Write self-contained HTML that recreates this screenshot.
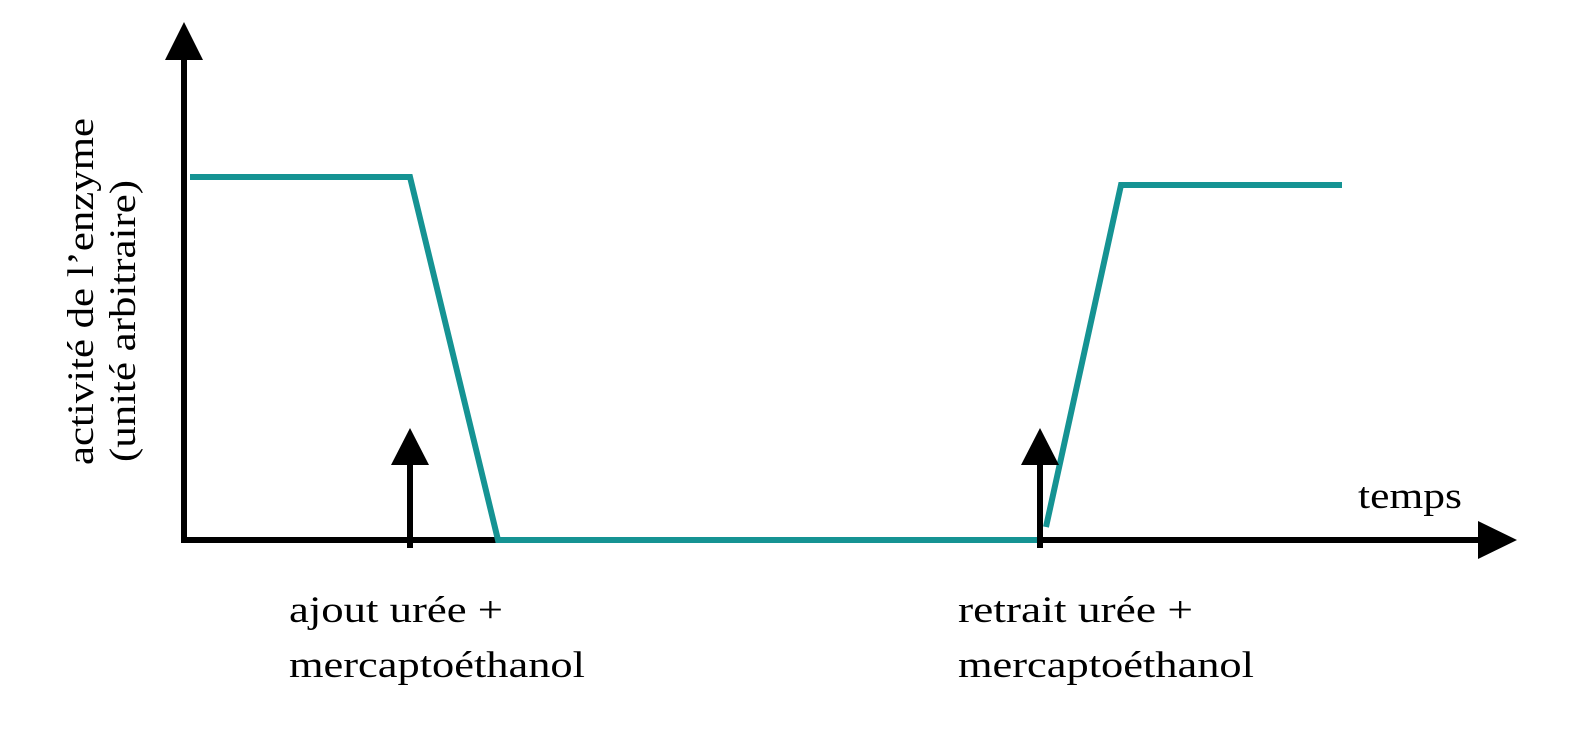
<!DOCTYPE html>
<html><head><meta charset="utf-8"><style>
html,body{margin:0;padding:0;background:#fff;}
svg{display:block;}
text{font-family:"Liberation Serif",serif;font-size:37px;fill:#000;}
</style></head><body>
<svg width="1580" height="730" viewBox="0 0 1580 730" xmlns="http://www.w3.org/2000/svg">
<line x1="184" y1="543" x2="184" y2="55" stroke="#000" stroke-width="6"/>
<polygon points="184,22 165,60 203,60" fill="#000"/>
<line x1="181" y1="540" x2="1482" y2="540" stroke="#000" stroke-width="6"/>
<polygon points="1517,540 1478,521 1478,559" fill="#000"/>
<polyline points="190,177 410,177 498,540 1037,540" fill="none" stroke="#159393" stroke-width="6"/>
<polyline points="1046,527 1121,185 1342,185" fill="none" stroke="#159393" stroke-width="6"/>
<line x1="410" y1="548" x2="410" y2="460" stroke="#000" stroke-width="6"/>
<polygon points="410,428 391,465 429,465" fill="#000"/>
<line x1="1040" y1="548" x2="1040" y2="460" stroke="#000" stroke-width="6"/>
<polygon points="1040,428 1021,465 1059,465" fill="#000"/>
<text x="1358" y="508" textLength="104" lengthAdjust="spacingAndGlyphs">temps</text>
<text x="289" y="622" textLength="214" lengthAdjust="spacingAndGlyphs">ajout urée +</text>
<text x="289" y="677" textLength="296" lengthAdjust="spacingAndGlyphs">mercaptoéthanol</text>
<text x="958" y="622" textLength="235" lengthAdjust="spacingAndGlyphs">retrait urée +</text>
<text x="958" y="677" textLength="296" lengthAdjust="spacingAndGlyphs">mercaptoéthanol</text>
<text transform="translate(93,465) rotate(-90)" textLength="347" lengthAdjust="spacingAndGlyphs">activité de l’enzyme</text>
<text transform="translate(135,462) rotate(-90)" textLength="282" lengthAdjust="spacingAndGlyphs">(unité arbitraire)</text>
</svg>
</body></html>
